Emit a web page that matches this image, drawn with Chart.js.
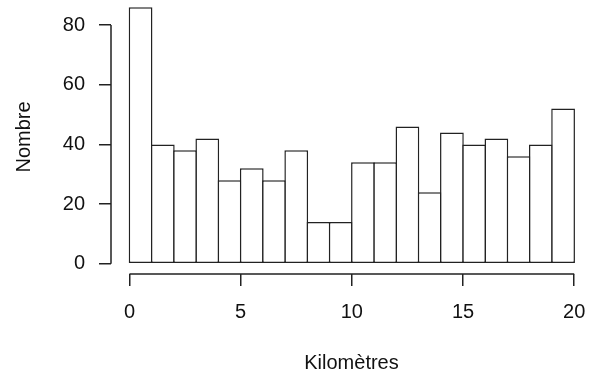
<!DOCTYPE html>
<html>
<head>
<meta charset="utf-8">
<script src="https://cdn.jsdelivr.net/npm/chart.js@4/dist/chart.umd.min.js"></script>
<style>
  html, body { margin: 0; padding: 0; background: #fff; }
  #hist { display: block; }
</style>
</head>
<body>
<canvas id="hist" width="592" height="376"></canvas>
<script>
// bin edges and counts
const BREAKS = [0, 1, 2, 3, 4, 5, 6, 7, 8, 9, 10, 11, 12, 13, 14, 15, 16, 17, 18, 19, 20];
const COUNTS = [86, 40, 38, 42, 28, 32, 28, 38, 14, 14, 34, 34, 46, 24, 44, 40, 42, 36, 40, 52];
const X_TICKS = [0, 5, 10, 15, 20];
const Y_TICKS = [0, 20, 40, 60, 80];
const X_TITLE = 'Kilomètres';
const Y_TITLE = 'Nombre';

const INK = '#222';
const LINE_W = 1.5;
const FONT = { family: '"Liberation Sans", Arial, Helvetica, sans-serif', size: 20 };

const points = COUNTS.map((c, i) => ({ x: (BREAKS[i] + BREAKS[i + 1]) / 2, y: c }));

// R style detached axis lines, only spanning the tick range
const axisLines = {
    id: 'axisLines',
    afterDraw(chart) {
        const { ctx, chartArea, scales } = chart;
        const xs = scales.x, ys = scales.y;
        ctx.save();
        ctx.strokeStyle = INK;
        ctx.lineWidth = LINE_W;
        ctx.lineCap = 'butt';
        ctx.beginPath();
        ctx.moveTo(chartArea.left, ys.getPixelForValue(Y_TICKS[0]));
        ctx.lineTo(chartArea.left, ys.getPixelForValue(Y_TICKS[Y_TICKS.length - 1]));
        ctx.moveTo(xs.getPixelForValue(X_TICKS[0]), chartArea.bottom);
        ctx.lineTo(xs.getPixelForValue(X_TICKS[X_TICKS.length - 1]), chartArea.bottom);
        ctx.stroke();
        ctx.restore();
    }
};

// keep the plot region exactly where R puts it
function noPad(s) {
    s.paddingTop = 0; s.paddingBottom = 0; s.paddingLeft = 0; s.paddingRight = 0;
}

const pxPerBin = 22.23;

new Chart(document.getElementById('hist'), {
    type: 'bar',
    data: {
        datasets: [{
            data: points,
            backgroundColor: '#fff',
            borderColor: INK,
            borderWidth: LINE_W,
            borderSkipped: false,
            inflateAmount: 0,
            barPercentage: (pxPerBin + LINE_W) / pxPerBin,
            categoryPercentage: 1
        }]
    },
    options: {
        responsive: false,
        animation: false,
        layout: { padding: 0, autoPadding: false },
        plugins: { legend: { display: false }, tooltip: { enabled: false } },
        scales: {
            x: {
                type: 'linear',
                min: -0.83,
                max: 20.8,
                offset: false,
                afterFit: s => { s.height = 102; noPad(s); },
                afterBuildTicks: s => { s.ticks = X_TICKS.map(v => ({ value: v })); },
                border: { display: false },
                grid: { offset: false, drawOnChartArea: false, drawTicks: true, tickLength: 12, color: INK, lineWidth: LINE_W },
                ticks: { color: '#111', font: FONT, padding: 14, maxRotation: 0, autoSkip: false },
                title: { display: true, text: X_TITLE, color: '#111', font: FONT, padding: { top: 0, bottom: 1 } }
            },
            y: {
                min: -3.44,
                max: 88.4,
                afterFit: s => { s.width = 111; noPad(s); },
                afterBuildTicks: s => { s.ticks = Y_TICKS.map(v => ({ value: v })); },
                border: { display: false },
                grid: { offset: false, drawOnChartArea: false, drawTicks: true, tickLength: 12, color: INK, lineWidth: LINE_W },
                ticks: { color: '#111', font: FONT, padding: 14 },
                title: { display: true, text: Y_TITLE, color: '#111', font: FONT, padding: { top: 12, bottom: 0 } }
            }
        }
    },
    plugins: [axisLines]
});
</script>
</body>
</html>
